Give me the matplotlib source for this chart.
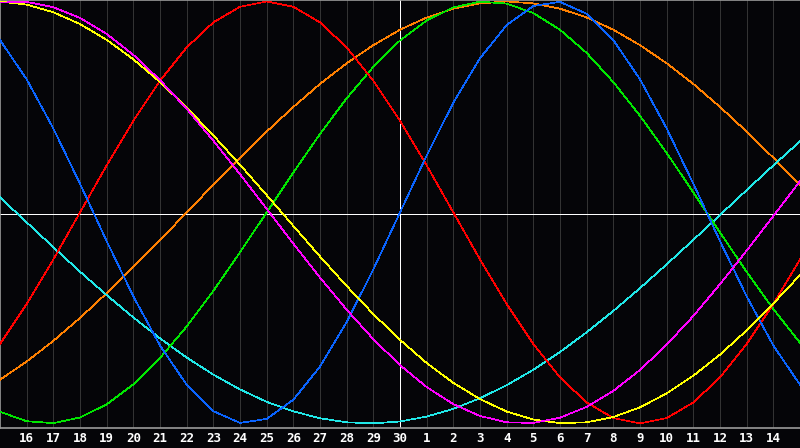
import matplotlib
matplotlib.use('Agg')
import matplotlib.pyplot as plt

# one value per day, day index 0 = the 15th (left edge), 15 = today (30th), 30 = next 15th
day_labels = ['16', '17', '18', '19', '20', '21', '22', '23', '24', '25', '26', '27', '28', '29', '30',
              '1', '2', '3', '4', '5', '6', '7', '8', '9', '10', '11', '12', '13', '14']

physical = [0.817, 0.631, 0.398, 0.136, -0.136, -0.398, -0.631, -0.817, -0.942, -0.998, -0.979,
            -0.888, -0.731, -0.520, -0.270, 0.0, 0.270, 0.520, 0.731, 0.888, 0.979, 0.998,
            0.942, 0.817, 0.631, 0.398, 0.136, -0.136, -0.398, -0.631, -0.817]
emotional = [-0.624, -0.434, -0.223, 0.0, 0.223, 0.434, 0.624, 0.782, 0.901, 0.975, 1.0,
             0.975, 0.901, 0.782, 0.624, 0.434, 0.223, 0.0, -0.223, -0.434, -0.624, -0.782,
             -0.901, -0.975, -1.0, -0.975, -0.901, -0.782, -0.624, -0.434, -0.223]
intellectual = [-0.945, -0.990, -0.999, -0.972, -0.910, -0.815, -0.690, -0.541, -0.372, -0.189, 0.0,
                0.189, 0.372, 0.541, 0.690, 0.815, 0.910, 0.972, 0.999, 0.990, 0.945, 0.866,
                0.756, 0.618, 0.458, 0.282, 0.095, -0.095, -0.282, -0.458, -0.618]
awareness = [-0.793, -0.707, -0.609, -0.5, -0.383, -0.259, -0.131, 0.0, 0.131, 0.259, 0.383,
             0.5, 0.609, 0.707, 0.793, 0.866, 0.924, 0.966, 0.991, 1.0, 0.991, 0.966,
             0.924, 0.866, 0.793, 0.707, 0.609, 0.5, 0.383, 0.259, 0.131]
spiritual = [0.071, -0.047, -0.165, -0.281, -0.392, -0.498, -0.597, -0.688, -0.769, -0.839, -0.898,
             -0.943, -0.976, -0.995, -1.0, -0.991, -0.968, -0.931, -0.881, -0.819, -0.746, -0.662,
             -0.568, -0.467, -0.359, -0.246, -0.130, -0.012, 0.106, 0.223, 0.337]
intuitive = [0.995, 0.998, 0.973, 0.922, 0.846, 0.747, 0.627, 0.491, 0.340, 0.181, 0.017,
             -0.148, -0.309, -0.461, -0.601, -0.724, -0.828, -0.909, -0.965, -0.995, -0.998, -0.973,
             -0.922, -0.846, -0.747, -0.627, -0.491, -0.340, -0.181, -0.017, 0.148]
aesthetic = [1.0, 0.985, 0.949, 0.893, 0.818, 0.726, 0.618, 0.497, 0.365, 0.226, 0.082,
             -0.064, -0.209, -0.349, -0.482, -0.604, -0.714, -0.808, -0.885, -0.944, -0.982, -0.999,
             -0.995, -0.970, -0.924, -0.858, -0.774, -0.674, -0.559, -0.432, -0.297]

today = 15
bg = '#050508'

curves = [
    (awareness, '#ff8000'),
    (spiritual, '#20e8e8'),
    (intellectual, '#00e600'),
    (emotional, '#ff0000'),
    (physical, '#0a64ff'),
    (aesthetic, '#ffff00'),
    (intuitive, '#ff00ff'),
]

fig = plt.figure(figsize=(8, 4.48), dpi=100, facecolor=bg)
ax = fig.add_axes([0, 20 / 448, 1, 428 / 448], facecolor=bg)

days = list(range(len(physical)))
for d in range(1, len(days) - 1):
    if d != today:
        ax.axvline(d, color='#333333', lw=0.7, zorder=1, antialiased=False)
ax.axvline(today, color='white', lw=0.7, zorder=2, antialiased=False)
ax.axhline(-0.008, color='white', lw=0.7, zorder=2, antialiased=False)

for values, col in curves:
    ax.plot(days, values, color=col, lw=0.5, zorder=3, antialiased=False)

ax.set_xlim(0, len(days) - 1)
ax.set_ylim(-1.022, 1.007)
ax.set_yticks([])
ax.set_xticks(range(1, len(days) - 1))
ax.set_xticklabels(day_labels, color='white', fontsize=9, fontweight='bold',
                   family='DejaVu Sans Mono')
ax.tick_params(axis='x', length=0, pad=3)

for side in ['left', 'bottom', 'top']:
    ax.spines[side].set_color('#9a9a9a')
    ax.spines[side].set_linewidth(1.2)
ax.spines['right'].set_visible(False)

fig.savefig('out.png', dpi=100, facecolor=bg)
